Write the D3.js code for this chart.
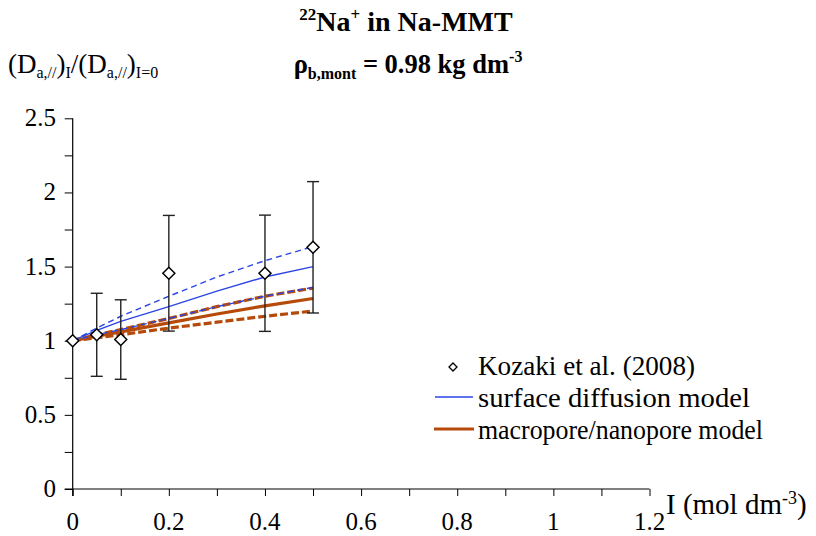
<!DOCTYPE html>
<html>
<head>
<meta charset="utf-8">
<script src="https://cdn.jsdelivr.net/npm/d3@7"></script>
<style>
  body { margin: 0; background: #fff; }
</style>
</head>
<body>
<div id="vis"></div>
<script>
// experimental data (Kozaki et al. 2008)
const expI = [0, 0.05, 0.1, 0.2, 0.4, 0.5];
const expRatio = [1.0, 1.04, 1.008, 1.455, 1.455, 1.63];
const expErr = [0, 0.28, 0.268, 0.39, 0.392, 0.443];

// model curves
const modelI = [0, 0.05, 0.1, 0.2, 0.3, 0.4, 0.5];
const surfaceUpper = [1, 1.085, 1.165, 1.30, 1.43, 1.54, 1.635];
const surfaceMid = [1, 1.07, 1.13, 1.23, 1.335, 1.43, 1.50];
const surfaceLower = [1, 1.04, 1.075, 1.15, 1.23, 1.30, 1.36];
const poreUpper = [1, 1.04, 1.075, 1.15, 1.23, 1.30, 1.355];
const poreMid = [1, 1.03, 1.06, 1.12, 1.18, 1.235, 1.285];
const poreLower = [1, 1.02, 1.04, 1.085, 1.125, 1.165, 1.20];

const xTicks = [0, 0.2, 0.4, 0.6, 0.8, 1, 1.2];
const yTicks = [0, 0.5, 1, 1.5, 2, 2.5];

const legendLabels = ['Kozaki et al. (2008)', 'surface diffusion model', 'macropore/nanopore model'];

const blue = '#2a44e6';
const orange = '#b54a0a';
const serif = 'Liberation Serif';

const svg = d3.select('#vis')
  .append('svg')
  .attr('width', 816)
  .attr('height', 536)
  .attr('font-family', serif);

const x = d3.scaleLinear().domain([0, 1.2]).range([72.7, 649.5]);
const y = d3.scaleLinear().domain([0, 2.5]).range([489, 118.3]);

// axes
const xAxis = svg.append('g')
  .attr('transform', `translate(0,${y(0)})`)
  .call(d3.axisBottom(x).tickValues(d3.range(0, 1.21, 0.1)).tickSize(7).tickFormat(''));
xAxis.select('.domain').attr('d', `M${x(0) - 8},0H${x(1.2)}`);

const yAxis = svg.append('g')
  .attr('transform', `translate(${x(0)},0)`)
  .call(d3.axisLeft(y).tickValues(d3.range(0, 2.51, 0.25)).tickSize(8).tickFormat(''));
yAxis.select('.domain').attr('d', `M0,${y(2.5)}V${y(0) + 7}`);
svg.selectAll('.tick line').attr('stroke', '#000').attr('stroke-width', 1);
svg.selectAll('.domain').attr('stroke', '#000').attr('stroke-width', 1.2);

svg.selectAll('.x-label')
  .data(xTicks)
  .enter()
  .append('text')
  .attr('class', 'x-label')
  .attr('x', d => x(d))
  .attr('y', 530)
  .attr('text-anchor', 'middle')
  .attr('font-size', 25)
  .text(d => d);

svg.selectAll('.y-label')
  .data(yTicks)
  .enter()
  .append('text')
  .attr('class', 'y-label')
  .attr('x', 56)
  .attr('y', d => y(d) + 8)
  .attr('text-anchor', 'end')
  .attr('font-size', 25)
  .text(d => d);

// model lines
const line = d3.line()
  .x((d, i) => x(modelI[i]))
  .y(d => y(d));

const curves = [
  { v: poreLower, c: orange, w: 3.2, dash: '8,3' },
  { v: poreMid, c: orange, w: 3.2, dash: null },
  { v: poreUpper, c: orange, w: 3.2, dash: '8,3' },
  { v: surfaceLower, c: blue, w: 1.4, dash: '6,4' },
  { v: surfaceMid, c: blue, w: 1.4, dash: null },
  { v: surfaceUpper, c: blue, w: 1.4, dash: '6,4' }
];

svg.selectAll('.curve')
  .data(curves)
  .enter()
  .append('path')
  .attr('class', 'curve')
  .attr('d', d => line(d.v))
  .attr('fill', 'none')
  .attr('stroke', d => d.c)
  .attr('stroke-width', d => d.w)
  .attr('stroke-dasharray', d => d.dash);

// error bars
const errData = expI.map((v, i) => ({ i: v, r: expRatio[i], e: expErr[i] })).filter(d => d.e > 0);
const bars = svg.selectAll('.err')
  .data(errData)
  .enter()
  .append('g')
  .attr('class', 'err')
  .attr('stroke', '#222')
  .attr('stroke-width', 1.4);
bars.append('line')
  .attr('x1', d => x(d.i)).attr('x2', d => x(d.i))
  .attr('y1', d => y(d.r + d.e)).attr('y2', d => y(d.r - d.e));
bars.append('line')
  .attr('x1', d => x(d.i) - 6).attr('x2', d => x(d.i) + 6)
  .attr('y1', d => y(d.r + d.e)).attr('y2', d => y(d.r + d.e));
bars.append('line')
  .attr('x1', d => x(d.i) - 6).attr('x2', d => x(d.i) + 6)
  .attr('y1', d => y(d.r - d.e)).attr('y2', d => y(d.r - d.e));

// diamonds
const diamond = 'M0,-6L6,0L0,6L-6,0Z';
svg.selectAll('.pt')
  .data(expI)
  .enter()
  .append('path')
  .attr('class', 'pt')
  .attr('d', diamond)
  .attr('transform', (d, i) => `translate(${x(d)},${y(expRatio[i])})`)
  .attr('fill', '#fff')
  .attr('stroke', '#000')
  .attr('stroke-width', 1.5);

// titles
const t1 = svg.append('text')
  .attr('x', 406).attr('y', 31)
  .attr('text-anchor', 'middle')
  .attr('font-size', 28)
  .attr('font-weight', 'bold');
t1.append('tspan').attr('font-size', 17).attr('dy', -11).text('22');
t1.append('tspan').attr('dy', 11).text('Na');
t1.append('tspan').attr('font-size', 17).attr('dy', -11).text('+');
t1.append('tspan').attr('dy', 11).text(' in Na-MMT');

const t2 = svg.append('text')
  .attr('x', 408).attr('y', 73)
  .attr('text-anchor', 'middle')
  .attr('font-size', 26.5)
  .attr('font-weight', 'bold');
t2.append('tspan').text('ρ');
t2.append('tspan').attr('font-size', 16).attr('dy', 6).text('b,mont');
t2.append('tspan').attr('dy', -6).text(' = 0.98 kg dm');
t2.append('tspan').attr('font-size', 16).attr('dy', -11).text('-3');

// y axis title
const yt = svg.append('text')
  .attr('x', 8).attr('y', 73)
  .attr('font-size', 27);
yt.append('tspan').text('(D');
yt.append('tspan').attr('font-size', 16).attr('dy', 5).text('a,//');
yt.append('tspan').attr('dy', -5).text(')');
yt.append('tspan').attr('font-size', 16).attr('dy', 5).text('I');
yt.append('tspan').attr('dy', -5).text('/(D');
yt.append('tspan').attr('font-size', 16).attr('dy', 5).text('a,//');
yt.append('tspan').attr('dy', -5).text(')');
yt.append('tspan').attr('font-size', 16).attr('dy', 5).text('I=0');

// x axis title
const xt = svg.append('text')
  .attr('x', 666).attr('y', 514)
  .attr('font-size', 29);
xt.append('tspan').text('I (mol dm');
xt.append('tspan').attr('font-size', 18).attr('dy', -10).text('-3');
xt.append('tspan').attr('dy', 10).text(')');

// legend
const legendWidths = [217, 272, 285];
const legend = svg.append('g');
legend.append('path')
  .attr('d', 'M0,-4L4,0L0,4L-4,0Z')
  .attr('transform', 'translate(453,367)')
  .attr('fill', '#fff')
  .attr('stroke', '#000')
  .attr('stroke-width', 1.3);
legend.append('line')
  .attr('x1', 435).attr('x2', 473).attr('y1', 397).attr('y2', 397)
  .attr('stroke', blue).attr('stroke-width', 1.4);
legend.append('line')
  .attr('x1', 434).attr('x2', 474).attr('y1', 429).attr('y2', 429)
  .attr('stroke', orange).attr('stroke-width', 3.2);
legend.selectAll('.leg-text')
  .data(legendLabels)
  .enter()
  .append('text')
  .attr('class', 'leg-text')
  .attr('x', 478)
  .attr('y', (d, i) => 375 + i * 32)
  .attr('font-size', 27)
  .attr('textLength', (d, i) => legendWidths[i])
  .attr('lengthAdjust', 'spacingAndGlyphs')
  .text(d => d);
</script>
</body>
</html>
